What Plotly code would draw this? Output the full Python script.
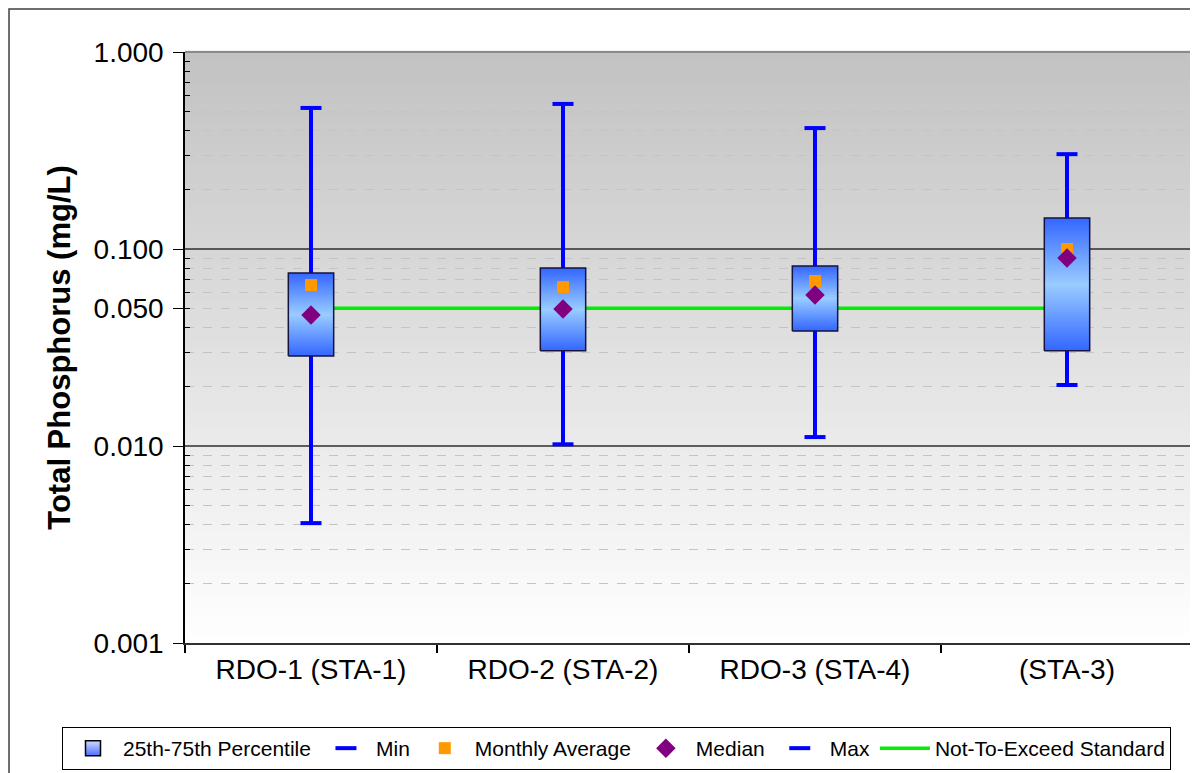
import plotly.graph_objects as go

categories = ["RDO-1 (STA-1)", "RDO-2 (STA-2)", "RDO-3 (STA-4)", "(STA-3)"]
p25 = [0.0286, 0.0304, 0.0384, 0.0304]
p75 = [0.0755, 0.080, 0.082, 0.1436]
mins = [0.00406, 0.0102, 0.0111, 0.0204]
maxs = [0.52, 0.545, 0.411, 0.303]
avg = [0.0656, 0.064, 0.0688, 0.100]
med = [0.0462, 0.0496, 0.0584, 0.090]
standard = 0.05
y_tickvals = [0.001, 0.01, 0.05, 0.1, 1.0]
y_ticktext = ["0.001", "0.010", "0.050", "0.100", "1.000"]

# page has an 8px body margin; figure sized to fit the 1198x773 window
W, H = 1190, 765
L, R, T, B = 177, 5, 44, 130
FONT = "Arial, Liberation Sans, sans-serif"
xs = list(range(len(categories)))
half = 0.09
pw, ph = W - L - R, H - T - B

fig = go.Figure()

# standard line (behind boxes)
fig.add_trace(go.Scatter(x=xs, y=[standard] * len(xs), mode="lines",
                         line=dict(color="#00ee00", width=3.5),
                         name="Not-To-Exceed Standard", legendrank=6))

# whiskers
wx, wy = [], []
for i in xs:
    wx += [i, i, None]
    wy += [mins[i], maxs[i], None]
fig.add_trace(go.Scatter(x=wx, y=wy, mode="lines", line=dict(color="#0000ff", width=4),
                         showlegend=False, hoverinfo="skip"))

# boxes
for i in xs:
    fig.add_trace(go.Scatter(
        x=[i - half, i + half, i + half, i - half, i - half],
        y=[p25[i], p25[i], p75[i], p75[i], p25[i]],
        mode="lines", fill="toself",
        fillgradient=dict(type="vertical",
                          colorscale=[[0, "#3366ff"], [0.5, "#99ccff"], [1, "#3366ff"]]),
        line=dict(color="#14143c", width=1.5),
        name="25th-75th Percentile", legendgroup="box", showlegend=False))

# legend entry for the percentile boxes
fig.add_trace(go.Scatter(x=[None], y=[None], mode="markers", name="25th-75th Percentile",
                         legendgroup="box", legendrank=1,
                         marker=dict(symbol="square", size=15, color="#cfdcff",
                                     gradient=dict(type="vertical", color="#4d6fff"),
                                     line=dict(color="black", width=1.5))))

fig.add_trace(go.Scatter(x=xs, y=mins, mode="markers", name="Min",
                         marker=dict(symbol="line-ew", size=15, line=dict(color="#0000ff", width=4)),
                         legendrank=2))
fig.add_trace(go.Scatter(x=xs, y=maxs, mode="markers", name="Max",
                         marker=dict(symbol="line-ew", size=15, line=dict(color="#0000ff", width=4)),
                         legendrank=5))
fig.add_trace(go.Scatter(x=xs, y=avg, mode="markers", name="Monthly Average",
                         marker=dict(symbol="square", size=12, color="#ff9900"),
                         legendrank=3))
fig.add_trace(go.Scatter(x=xs, y=med, mode="markers", name="Median",
                         marker=dict(symbol="diamond", size=15, color="#800080"),
                         legendrank=4))

shapes = []
# gradient background
n = 90
for k in range(n):
    f = k / n
    c = int(round(194 + (255 - 194) * (1 - (k + 0.5) / n)))
    shapes.append(dict(type="rect", xref="paper", yref="paper", x0=0, x1=1,
                       y0=f, y1=f + 1.0 / n + 0.002, layer="below",
                       line=dict(width=0), fillcolor=f"rgb({c},{c},{c})"))
# decade gridlines
for v in [0.01, 0.1]:
    shapes.append(dict(type="line", xref="paper", yref="y", x0=0, x1=1, y0=v, y1=v,
                       layer="below", line=dict(color="#2e2e2e", width=1.3)))
# plot frame (top/right gray)
shapes.append(dict(type="line", xref="paper", yref="paper", x0=0, x1=1, y0=1, y1=1,
                   line=dict(color="#8a8a8a", width=2)))
shapes.append(dict(type="line", xref="paper", yref="paper", x0=1, x1=1, y0=0, y1=1,
                   line=dict(color="#8f8f8f", width=3)))
# outer chart border
shapes.append(dict(type="rect", xref="paper", yref="paper",
                   x0=(1 - L) / pw, x1=(W + 10 - L) / pw,
                   y0=-(B + 10) / ph, y1=(H - B - 1) / ph,
                   line=dict(color="#404040", width=1.5), fillcolor="rgba(0,0,0,0)",
                   layer="above"))

fig.update_layout(
    width=W, height=H,
    margin=dict(l=L, r=R, t=T, b=B, autoexpand=False),
    paper_bgcolor="white", plot_bgcolor="white",
    font=dict(family=FONT, color="black"),
    shapes=shapes,
    showlegend=True,
    legend=dict(orientation="h",
                x=(62 - 8 - L) / pw, xanchor="left",
                y=(H - B - (727 - 8)) / ph, yanchor="top",
                bordercolor="black", borderwidth=1, bgcolor="white",
                font=dict(size=21, family=FONT), itemwidth=50, traceorder="normal"),
    xaxis=dict(range=[-0.5, len(categories) - 0.5], tickvals=xs, ticktext=categories,
               showgrid=False, zeroline=False, showline=True, linecolor="#303030", linewidth=2,
               ticks="", tickfont=dict(size=28, family=FONT), automargin=False,
               minor=dict(tick0=0.5, dtick=1, ticks="outside", ticklen=8, tickcolor="black",
                          tickwidth=1.5)),
    yaxis=dict(type="log", range=[-3, 0], tickvals=y_tickvals, ticktext=y_ticktext,
               showgrid=False, zeroline=False, showline=True, linecolor="black", linewidth=1.5,
               ticks="outside", ticklen=10, tickcolor="black", tickwidth=1,
               ticklabelstandoff=4, automargin=False,
               tickfont=dict(size=28, family=FONT),
               title=dict(text="<b>Total Phosphorus (mg/L)</b>", font=dict(size=31, family=FONT),
                          standoff=14),
               minor=dict(tickvals=[k * 10 ** e for e in (-3, -2, -1) for k in range(2, 10)],
                          ticks="inside", ticklen=5, tickcolor="black",
                          showgrid=True, gridcolor="#c4c4c4", griddash="dash",
                          gridwidth=1)),
)

fig.write_html("out.html")
